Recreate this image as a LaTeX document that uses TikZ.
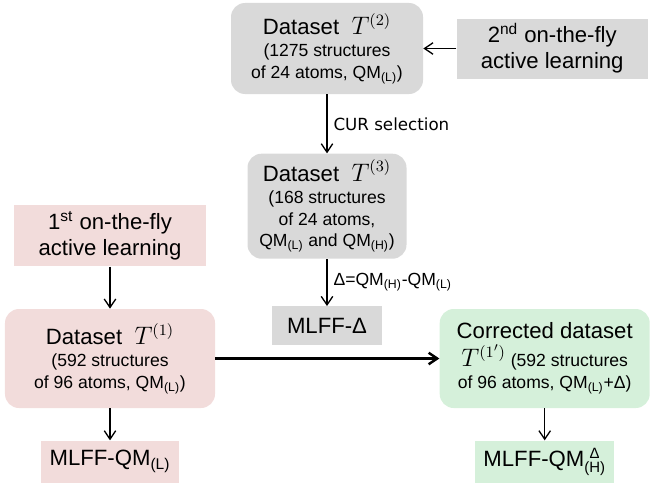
\documentclass[tikz,border=0pt]{standalone}
\usepackage{fontspec}
\setmainfont{Liberation Sans}
\newfontfamily\curfont{DejaVu Sans}
\usetikzlibrary{arrows.meta, positioning}

\definecolor{boxgray}{HTML}{D9D9D9}
\definecolor{boxpink}{HTML}{F2DCDB}
\definecolor{boxgreen}{HTML}{D5F0DA}

\newcommand{\bigline}[1]{{\fontsize{12.6}{15}\selectfont #1}}
\newcommand{\qmsub}[1]{QM\textsubscript{(#1)}}
\newcommand{\setT}[1]{{\fontsize{13.5}{15}\selectfont$T^{(#1)}$}}

\begin{document}
\begin{tikzpicture}[
                node distance=1cm,
                dsbox/.style={rectangle, rounded corners=0.28cm, align=center, inner sep=2pt,
                              font=\fontsize{10}{12.5}\selectfont},
                flybox/.style={rectangle, align=center, inner sep=2pt, font=\fontsize{12.6}{15}\selectfont},
                line/.style={draw, -{Straight Barb[length=1.7mm, width=2.3mm]}, line width=0.75pt}
            ]
                \useasboundingbox (0,0) rectangle (13,-9.64);

                % Place nodes
                \node [dsbox, fill=boxgray, minimum width=3.84cm, minimum height=1.82cm] (D_two) at (6.54,-0.97)
                    {\bigline{Dataset \ \setT{2}}\\[0pt] (1275 structures\\ of 24 atoms, \qmsub{L})};
                \node [flybox, fill=boxgray, minimum width=3.82cm, minimum height=1.2cm, right=0.66cm of D_two] (F_two)
                    {2\textsuperscript{nd} on-the-fly\\ active learning};
                \node [dsbox, fill=boxgray, minimum width=3.18cm, minimum height=2.1cm, below=1.18cm of D_two] (D_three)
                    {\bigline{Dataset \ \setT{3}}\\[0pt] (168 structures\\ of 24 atoms,\\ \qmsub{L} and \qmsub{H})};
                \node [flybox, fill=boxgray, minimum width=2.2cm, minimum height=0.78cm, below=0.94cm of D_three] (M_delta)
                    {MLFF-Δ};

                \node [dsbox, fill=boxpink, minimum width=4.2cm, minimum height=1.98cm] (D_one) at (2.2,-7.17)
                    {\bigline{Dataset \ \setT{1}}\\[0pt] (592 structures\\ of 96 atoms, \qmsub{L})};
                \node [flybox, fill=boxpink, minimum width=3.84cm, minimum height=1.22cm, above=0.84cm of D_one] (F_one)
                    {1\textsuperscript{st} on-the-fly\\ active learning};
                \node [dsbox, fill=boxgreen, minimum width=4.2cm, minimum height=1.98cm, right=4.48cm of D_one] (D_corr)
                    {\bigline{Corrected dataset}\\[2pt] \setT{1'} (592 structures\\ of 96 atoms, \qmsub{L}+Δ)};

                \node [flybox, fill=boxpink, minimum width=2.76cm, minimum height=0.84cm, below=0.64cm of D_one] (M_low)
                    {MLFF-\qmsub{L}};
                \node [flybox, fill=boxgreen, minimum width=2.78cm, minimum height=0.84cm, below=0.64cm of D_corr] (M_high)
                    {MLFF-QM$^{\mbox{\fontsize{8.5}{9}\selectfont\makebox[1.388em]{Δ}}}_{\mbox{\fontsize{8.5}{9}\selectfont(H)}}$};

                % Draw edges
                \path [line] (F_two) -- (D_two);
                \path [line] (D_two) -- node [right, font=\curfont\fontsize{9.5}{11}\selectfont] {CUR selection} (D_three);
                \path [line] (D_three) -- node [right, pos=0.5, font=\fontsize{10}{12}\selectfont] {Δ=\qmsub{H}-\qmsub{L}} (M_delta);
                \path [line] (F_one) -- (D_one);
                \path [line, line width=1.4pt] (D_one) -- (D_corr);
                \path [line] (D_one) -- (M_low);
                \path [line] (D_corr) -- (M_high);

            \end{tikzpicture}
\end{document}
